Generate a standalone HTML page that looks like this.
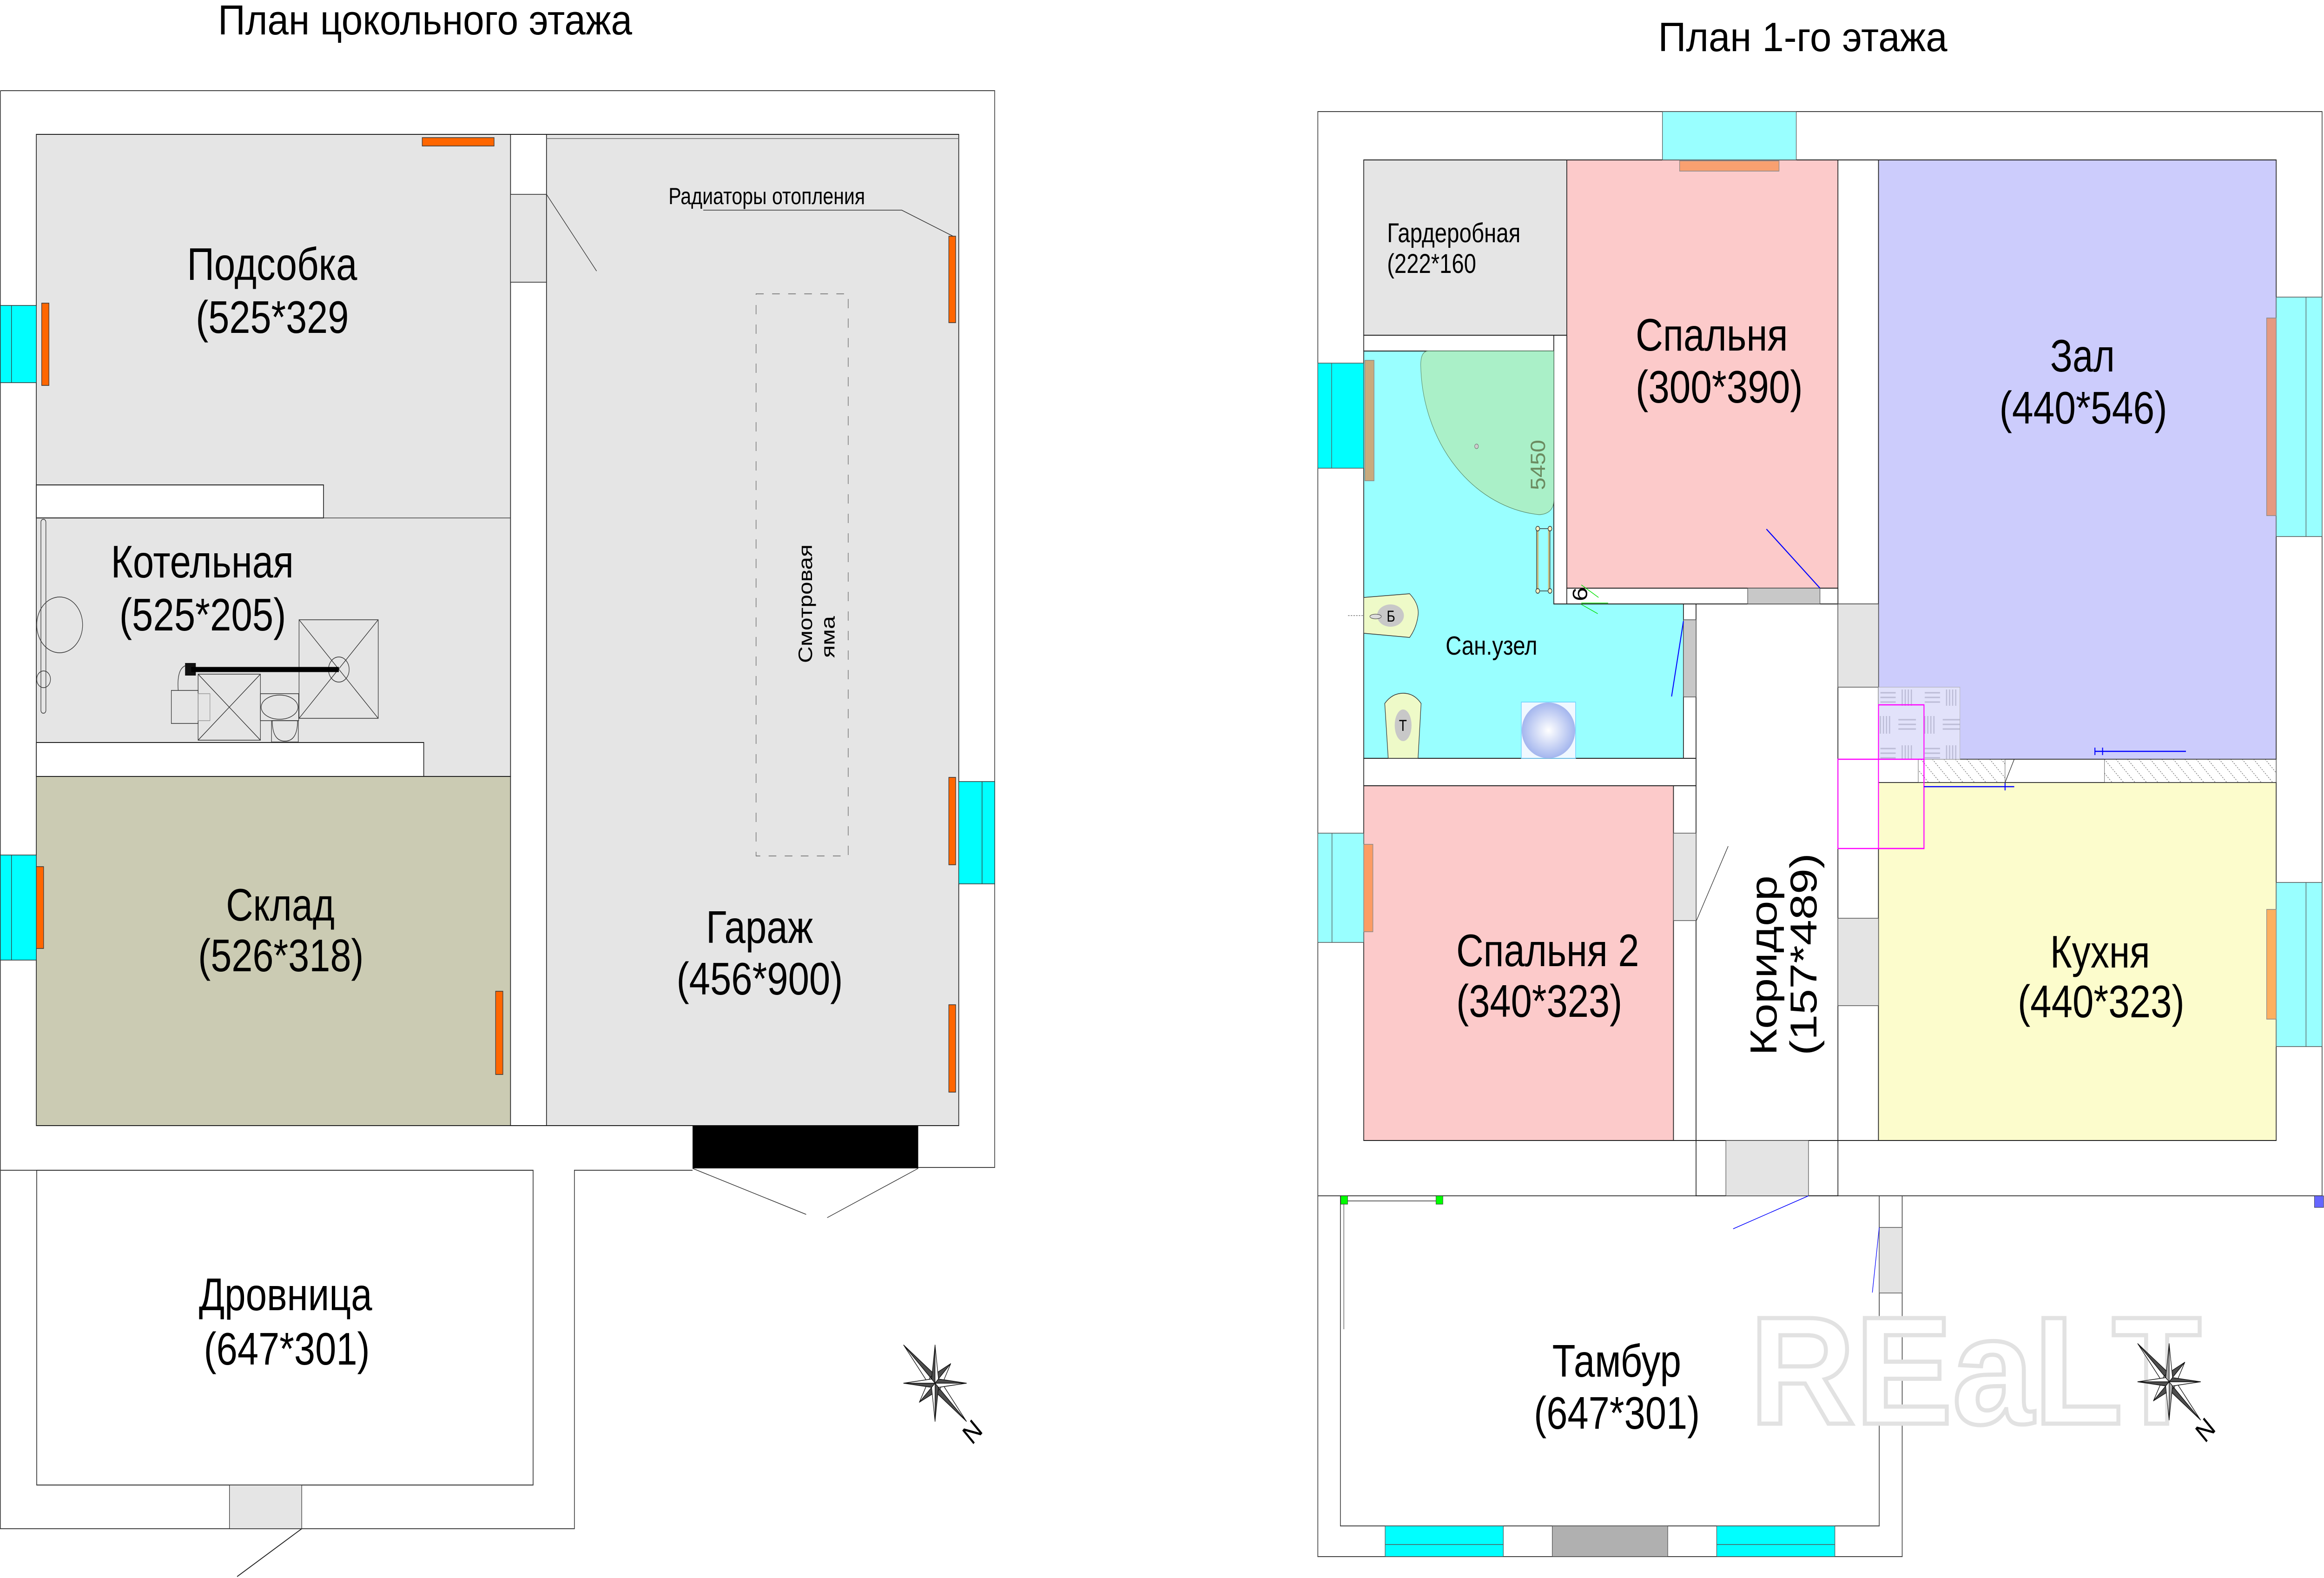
<!DOCTYPE html>
<html><head><meta charset="utf-8"><style>
html,body{margin:0;padding:0;background:#fff;width:100%;height:100%;overflow:hidden;}
svg{display:block;width:100vw;height:100vh;}
text{font-family:"Liberation Sans",Arial,sans-serif;fill:#000;}
</style></head><body>
<svg xmlns="http://www.w3.org/2000/svg" viewBox="0 0 6077 3394" preserveAspectRatio="none">
<defs>
<pattern id="hatch" patternUnits="userSpaceOnUse" width="30" height="30">
<path d="M0,0 L30,30 M-15,15 L15,45 M15,-15 L45,15" stroke="#777" stroke-width="1.5" stroke-dasharray="3,3" fill="none"/>
</pattern>
<pattern id="tile" patternUnits="userSpaceOnUse" x="4912" y="1478" width="116" height="120">
<rect width="116" height="120" fill="#e2e2fa"/>
<g stroke="#bcbcd6" stroke-width="3">
<path d="M5,12 H45 M5,22 H45 M5,32 H45"/>
<path d="M62,5 V40 M70,5 V40 M78,5 V40 M86,5 V40"/>
<path d="M5,62 V100 M13,62 V100 M21,62 V100 M29,62 V100"/>
<path d="M52,70 H98 M52,80 H98 M52,90 H98"/>
</g>
</pattern>
<radialGradient id="basin" cx="0.5" cy="0.5" r="0.5">
<stop offset="0" stop-color="#ffffff"/><stop offset="1" stop-color="#a4b6ee"/>
</radialGradient>
</defs>
<rect width="6077" height="3394" fill="#fff"/>

<!-- ================= LEFT PLAN ================= -->
<text x="570" y="74" font-size="90" textLength="1083" lengthAdjust="spacingAndGlyphs">План цокольного этажа</text>

<g fill="none" stroke="#444" stroke-width="2">
<path d="M1,195 H2601 V2511 H2401"/>
<path d="M1,195 V3288 H1502 V2517 H1811"/>
<path d="M1,2517 H96"/>
</g>
<rect x="96" y="2517" width="1298" height="677" fill="#fff" stroke="#333" stroke-width="2"/>

<rect x="95" y="289" width="1240" height="1381" fill="#e5e5e5" stroke="#222" stroke-width="2"/>
<rect x="95" y="1043" width="751" height="71" fill="#fff" stroke="#222" stroke-width="2"/>
<line x1="846" y1="1114" x2="1335" y2="1114" stroke="#444" stroke-width="1.5"/>
<rect x="95" y="1597" width="1013" height="73" fill="#fff" stroke="#222" stroke-width="2"/>
<rect x="95" y="1670" width="1240" height="751" fill="#cbcbb3" stroke="#222" stroke-width="2"/>
<line x1="1335" y1="289" x2="1429" y2="289" stroke="#222" stroke-width="2"/>
<line x1="1335" y1="2421" x2="1429" y2="2421" stroke="#222" stroke-width="2"/>
<rect x="1335" y="418" width="94" height="189" fill="#e5e5e5" stroke="#222" stroke-width="1.5"/>
<rect x="1429" y="289" width="1078" height="2132" fill="#e5e5e5" stroke="#222" stroke-width="2"/>
<line x1="1429" y1="298" x2="2507" y2="298" stroke="#666" stroke-width="1.5"/>
<line x1="1429" y1="418" x2="1560" y2="583" stroke="#333" stroke-width="1.5"/>
<rect x="1811" y="2421" width="590" height="92" fill="#000"/>
<line x1="1811" y1="2513" x2="2108" y2="2612" stroke="#333" stroke-width="1.5"/>
<line x1="2401" y1="2513" x2="2163" y2="2619" stroke="#333" stroke-width="1.5"/>
<rect x="600" y="3194" width="189" height="94" fill="#e5e5e5" stroke="#333" stroke-width="1.5"/>
<line x1="789" y1="3288" x2="620" y2="3391" stroke="#222" stroke-width="2"/>

<g fill="#00ffff" stroke="#333" stroke-width="1.5">
<rect x="1" y="657" width="94" height="166"/><line x1="30" y1="657" x2="30" y2="823"/>
<rect x="1" y="1839" width="94" height="226"/><line x1="30" y1="1839" x2="30" y2="2065"/>
<rect x="2507" y="1681" width="94" height="220"/><line x1="2568" y1="1681" x2="2568" y2="1901"/>
</g>
<g fill="#ff6600" stroke="#333" stroke-width="1.5">
<rect x="1104" y="296" width="188" height="18"/>
<rect x="109" y="652" width="19" height="177"/>
<rect x="95" y="1864" width="19" height="176"/>
<rect x="1296" y="2132" width="19" height="179"/>
<rect x="2481" y="508" width="18" height="186"/>
<rect x="2481" y="1672" width="18" height="188"/>
<rect x="2481" y="2161" width="18" height="188"/>
</g>

<text x="1748" y="439" font-size="50" textLength="514" lengthAdjust="spacingAndGlyphs">Радиаторы отопления</text>
<polyline points="1839,452 2358,452 2492,508" fill="none" stroke="#333" stroke-width="1.5"/>
<rect x="1977" y="632" width="241" height="1209" fill="none" stroke="#666" stroke-width="1.5" stroke-dasharray="20,22"/>
<text font-size="51" transform="translate(2123,1426) rotate(-90)" textLength="255" lengthAdjust="spacingAndGlyphs">Смотровая</text>
<text font-size="51" transform="translate(2182,1415) rotate(-90)" textLength="90" lengthAdjust="spacingAndGlyphs">яма</text>

<g fill="none" stroke="#333" stroke-width="1.5">
<rect x="107" y="1117" width="13" height="417" rx="6"/>
<circle cx="156" cy="1344" r="60"/>
<circle cx="114" cy="1461" r="18"/>
<rect x="782" y="1333" width="207" height="212"/>
<path d="M782,1333 L989,1545 M989,1333 L782,1545"/>
<circle cx="886" cy="1440" r="27"/>
<rect x="518" y="1450" width="163" height="142"/>
<path d="M518,1450 L681,1592 M681,1450 L518,1592"/>
<rect x="448" y="1485" width="70" height="71"/>
<rect x="518" y="1492" width="31" height="58" stroke="#999"/>
<rect x="681" y="1492" width="100" height="58"/>
<ellipse cx="731" cy="1521" rx="48" ry="26"/>
<rect x="710" y="1550" width="70" height="46"/>
<path d="M712,1550 Q712,1594 745,1594 Q778,1594 778,1550"/>
<path d="M484,1432 Q462,1440 466,1485"/>
</g>
<rect x="484" y="1426" width="28" height="27" fill="#111"/>
<line x1="500" y1="1440" x2="886" y2="1440" stroke="#000" stroke-width="11"/>

<g font-size="98">
<text x="489" y="602" textLength="445" lengthAdjust="spacingAndGlyphs">Подсобка</text>
<text x="512" y="716" textLength="400" lengthAdjust="spacingAndGlyphs">(525*329</text>
<text x="290" y="1242" textLength="478" lengthAdjust="spacingAndGlyphs">Котельная</text>
<text x="312" y="1356" textLength="436" lengthAdjust="spacingAndGlyphs">(525*205)</text>
<text x="591" y="1980" textLength="284" lengthAdjust="spacingAndGlyphs">Склад</text>
<text x="518" y="2089" textLength="433" lengthAdjust="spacingAndGlyphs">(526*318)</text>
<text x="520" y="2818" textLength="453" lengthAdjust="spacingAndGlyphs">Дровница</text>
<text x="533" y="2935" textLength="434" lengthAdjust="spacingAndGlyphs">(647*301)</text>
<text x="1846" y="2028" textLength="280" lengthAdjust="spacingAndGlyphs">Гараж</text>
<text x="1769" y="2139" textLength="435" lengthAdjust="spacingAndGlyphs">(456*900)</text>
</g>

<g transform="translate(2445,2975)" stroke="#111" stroke-width="1.5" stroke-linejoin="round">
<polygon points="0,0 -82,-82 10,-10" fill="#4d4d4d"/><polygon points="0,0 -82,-82 -10,10" fill="#fff"/>
<polygon points="0,0 82,82 -10,10" fill="#4d4d4d"/><polygon points="0,0 82,82 10,-10" fill="#fff"/>
<polygon points="0,0 41,-42 -13,-13" fill="#4d4d4d"/><polygon points="0,0 41,-42 13,13" fill="#fff"/>
<polygon points="0,0 -41,41 13,13" fill="#4d4d4d"/><polygon points="0,0 -41,41 -13,-13" fill="#fff"/>
<polygon points="0,0 0,-82 -9,-9" fill="#4d4d4d"/><polygon points="0,0 0,-82 9,-9" fill="#fff"/>
<polygon points="0,0 82,0 9,-9" fill="#4d4d4d"/><polygon points="0,0 82,0 9,9" fill="#fff"/>
<polygon points="0,0 0,82 9,9" fill="#4d4d4d"/><polygon points="0,0 0,82 -9,9" fill="#fff"/>
<polygon points="0,0 -82,0 -9,9" fill="#4d4d4d"/><polygon points="0,0 -82,0 -9,-9" fill="#fff"/>
</g>
<text font-family="Liberation Serif,serif" font-size="60" text-anchor="middle" transform="translate(2543,3080) rotate(-45)" y="20">N</text>

<!-- ================= RIGHT PLAN ================= -->
<text x="4336" y="110" font-size="88" textLength="756" lengthAdjust="spacingAndGlyphs">План 1-го этажа</text>

<g fill="none" stroke="#444" stroke-width="2">
<rect x="3446" y="240" width="2626" height="2332"/>
<path d="M3446,2572 V3348 H4974 V2572"/>
</g>
<rect x="3505" y="2572" width="1409" height="710" fill="#fff" stroke="#444" stroke-width="2"/>

<g stroke="#222" stroke-width="2">
<rect x="3566" y="344" width="531" height="377" fill="#e5e5e5"/>
<rect x="4097" y="344" width="709" height="921" fill="#fccaca"/>
<rect x="4912" y="344" width="1040" height="1289" fill="#ccccfc"/>
<rect x="4806" y="344" width="106" height="955" fill="#fff"/>
<rect x="3566" y="721" width="497" height="34" fill="#fff"/>
<rect x="4063" y="721" width="34" height="578" fill="#fff"/>
<rect x="4097" y="1265" width="709" height="34" fill="#fff"/>
<polygon points="3566,755 4063,755 4063,1299 4402,1299 4402,1631 3566,1631" fill="#99ffff"/>
<rect x="4402" y="1299" width="33" height="332" fill="#fff"/>
<rect x="3566" y="1631" width="869" height="59" fill="#fff"/>
<rect x="3566" y="1690" width="810" height="763" fill="#fccaca"/>
<rect x="4376" y="1690" width="59" height="763" fill="#fff"/>
<rect x="4435" y="1299" width="371" height="1154" fill="#fff"/>
<rect x="4435" y="2453" width="371" height="119" fill="#fff"/>
<rect x="4806" y="1299" width="106" height="1154" fill="#fff"/>
<rect x="4912" y="1683" width="1040" height="770" fill="#fcfccc"/>
</g>
<g stroke="#555" stroke-width="1.5">
<rect x="4570" y="1265" width="189" height="34" fill="#c8c8c8"/>
<rect x="4402" y="1333" width="33" height="166" fill="#c8c8c8"/>
<rect x="4806" y="1299" width="106" height="179" fill="#e4e4e4"/>
<rect x="4806" y="1975" width="106" height="188" fill="#e4e4e4"/>
<rect x="4376" y="1792" width="59" height="188" fill="#e4e4e4"/>
<rect x="4513" y="2453" width="216" height="119" fill="#e4e4e4"/>
<rect x="4914" y="2640" width="60" height="141" fill="#e4e4e4"/>
<rect x="4059" y="3282" width="302" height="66" fill="#b0b0b0"/>
</g>

<rect x="4912" y="1633" width="1040" height="50" fill="#fff" stroke="#222" stroke-width="1.5"/>
<rect x="5016" y="1633" width="227" height="50" fill="url(#hatch)" stroke="#444" stroke-width="1"/>
<rect x="5503" y="1633" width="449" height="50" fill="url(#hatch)" stroke="#444" stroke-width="1"/>
<line x1="5243" y1="1683" x2="5267" y2="1633" stroke="#333" stroke-width="1.5"/>
<rect x="4912" y="1478" width="213" height="155" fill="url(#tile)" stroke="#aaa" stroke-width="1"/>
<g fill="none" stroke="#ff00ff" stroke-width="2.5">
<rect x="4912" y="1516" width="119" height="309"/>
<rect x="4806" y="1633" width="225" height="192"/>
</g>
<g stroke="#0000ff" stroke-width="2.5" fill="none">
<path d="M5478,1616 H5716 M5478,1608 V1624 M5498,1608 V1624"/>
<path d="M5031,1692 H5267 M5243,1684 V1700"/>
<line x1="4619" y1="1138" x2="4759" y2="1265"/>
<line x1="4402" y1="1336" x2="4371" y2="1498"/>
<line x1="4729" y1="2572" x2="4532" y2="2643" stroke-width="1.5"/>
<line x1="4914" y1="2640" x2="4896" y2="2780" stroke-width="1.5"/>
</g>
<line x1="4436" y1="1980" x2="4519" y2="1820" stroke="#333" stroke-width="1.5"/>

<g stroke="#555" stroke-width="1.5">
<rect x="4347" y="240" width="350" height="104" fill="#99ffff"/>
<rect x="3446" y="781" width="120" height="226" fill="#00ffff"/><line x1="3482" y1="781" x2="3482" y2="1007"/>
<rect x="3446" y="1792" width="120" height="235" fill="#99ffff"/><line x1="3483" y1="1792" x2="3483" y2="2027"/>
<rect x="5952" y="639" width="120" height="515" fill="#99ffff"/><line x1="6030" y1="639" x2="6030" y2="1154"/>
<rect x="5952" y="1898" width="120" height="353" fill="#99ffff"/><line x1="6030" y1="1898" x2="6030" y2="2251"/>
<rect x="3622" y="3282" width="309" height="66" fill="#00ffff"/><line x1="3622" y1="3322" x2="3931" y2="3322"/>
<rect x="4489" y="3282" width="309" height="66" fill="#00ffff"/><line x1="4489" y1="3322" x2="4798" y2="3322"/>
</g>
<g stroke="#888" stroke-width="1.5">
<rect x="4392" y="346" width="260" height="22" fill="#f9a070"/>
<rect x="3569" y="775" width="24" height="259" fill="#c8aa7d"/>
<rect x="3566" y="1816" width="24" height="188" fill="#fc9c64"/>
<rect x="5927" y="684" width="25" height="425" fill="#e59a80"/>
<rect x="5927" y="1956" width="25" height="236" fill="#fcb060"/>
</g>

<path d="M4063,755 L3735,755 Q3715,755 3715,785 A 340 330 0 0 0 4025,1107 Q4063,1105 4063,1075 Z" fill="#aaf0c8" stroke="#5a8a6a" stroke-width="1.2"/>
<circle cx="3861" cy="960" r="5" fill="#ccc" stroke="#666"/>
<text font-size="54" style="fill:#6b8a60" transform="translate(4040,1054) rotate(-90)" textLength="108" lengthAdjust="spacingAndGlyphs">5450</text>
<g stroke="#333" stroke-width="1.5">
<rect x="4018" y="1137" width="35" height="134" fill="none"/>
<line x1="4021" y1="1137" x2="4021" y2="1271" stroke="#c8b878" stroke-width="4"/>
<line x1="4050" y1="1137" x2="4050" y2="1271" stroke="#c8b878" stroke-width="4"/>
<circle cx="4021" cy="1137" r="5" fill="#f4f0c0"/><circle cx="4053" cy="1137" r="5" fill="#f4f0c0"/>
<circle cx="4021" cy="1271" r="5" fill="#f4f0c0"/><circle cx="4053" cy="1271" r="5" fill="#f4f0c0"/>
</g>
<text font-size="54" transform="translate(4150,1293) rotate(-90)">6</text>
<g stroke="#00e000" stroke-width="1.5">
<line x1="4135" y1="1258" x2="4180" y2="1285"/>
<line x1="4135" y1="1297" x2="4205" y2="1297"/>
<line x1="4135" y1="1300" x2="4178" y2="1320"/>
</g>
<path d="M3566,1285 L3686,1277 Q3712,1300 3708,1324 Q3704,1350 3686,1371 L3566,1362 Z" fill="#eefac8" stroke="#333" stroke-width="1.5"/>
<ellipse cx="3636" cy="1324" rx="35" ry="24" fill="#c8c8c8"/>
<ellipse cx="3597" cy="1326" rx="15" ry="5" fill="#ddd" stroke="#333" stroke-width="1"/>
<line x1="3525" y1="1324" x2="3566" y2="1324" stroke="#333" stroke-width="1" stroke-dasharray="4,3"/>
<text x="3626" y="1337" font-size="34">Б</text>
<path d="M3621,1513 Q3640,1491 3669,1491 Q3698,1491 3716,1513 L3708,1631 L3630,1631 Z" fill="#eefac8" stroke="#333" stroke-width="1.5"/>
<ellipse cx="3669" cy="1560" rx="22" ry="34" fill="#c8c8c8"/>
<text x="3658" y="1572" font-size="34">Т</text>
<rect x="3978" y="1510" width="142" height="121" fill="#f0f8ff" stroke="#66ccff" stroke-width="1.5"/>
<ellipse cx="4049" cy="1571" rx="70" ry="60" fill="url(#basin)"/>

<rect x="3506" y="2572" width="18" height="18" fill="#00ff00" stroke="#333" stroke-width="1"/>
<rect x="3755" y="2572" width="18" height="18" fill="#00ff00" stroke="#333" stroke-width="1"/>
<line x1="3524" y1="2583" x2="3755" y2="2583" stroke="#333" stroke-width="1.5"/>
<line x1="3514" y1="2590" x2="3514" y2="2859" stroke="#555" stroke-width="1.5"/>
<rect x="6052" y="2572" width="24" height="25" fill="#6666ff" stroke="#333" stroke-width="1"/>

<text x="4575" y="3062" font-size="330" font-weight="bold" textLength="1181" lengthAdjust="spacingAndGlyphs" style="fill:#ffffff;stroke:#e2e2e2;stroke-width:9">REaLT</text>

<text x="3627" y="521" font-size="58" textLength="349" lengthAdjust="spacingAndGlyphs">Гардеробная</text>
<text x="3627" y="587" font-size="58" textLength="233" lengthAdjust="spacingAndGlyphs">(222*160</text>
<text x="3780" y="1408" font-size="57" textLength="240" lengthAdjust="spacingAndGlyphs">Сан.узел</text>
<g font-size="98">
<text x="4277" y="754" textLength="398" lengthAdjust="spacingAndGlyphs">Спальня</text>
<text x="4277" y="866" textLength="437" lengthAdjust="spacingAndGlyphs">(300*390)</text>
<text x="5361" y="799" textLength="169" lengthAdjust="spacingAndGlyphs">Зал</text>
<text x="5228" y="911" textLength="439" lengthAdjust="spacingAndGlyphs">(440*546)</text>
<text x="3808" y="2078" textLength="478" lengthAdjust="spacingAndGlyphs">Спальня 2</text>
<text x="3808" y="2187" textLength="434" lengthAdjust="spacingAndGlyphs">(340*323)</text>
<text x="5361" y="2081" textLength="261" lengthAdjust="spacingAndGlyphs">Кухня</text>
<text x="5276" y="2188" textLength="436" lengthAdjust="spacingAndGlyphs">(440*323)</text>
<text x="4059" y="2961" textLength="337" lengthAdjust="spacingAndGlyphs">Тамбур</text>
<text x="4011" y="3073" textLength="434" lengthAdjust="spacingAndGlyphs">(647*301)</text>
<text transform="translate(4645,2270) rotate(-90)" textLength="387" lengthAdjust="spacingAndGlyphs">Коридор</text>
<text transform="translate(4750,2270) rotate(-90)" textLength="435" lengthAdjust="spacingAndGlyphs">(157*489)</text>
</g>

<g transform="translate(5672,2972)" stroke="#111" stroke-width="1.5" stroke-linejoin="round">
<polygon points="0,0 -82,-82 10,-10" fill="#4d4d4d"/><polygon points="0,0 -82,-82 -10,10" fill="#fff"/>
<polygon points="0,0 82,82 -10,10" fill="#4d4d4d"/><polygon points="0,0 82,82 10,-10" fill="#fff"/>
<polygon points="0,0 41,-42 -13,-13" fill="#4d4d4d"/><polygon points="0,0 41,-42 13,13" fill="#fff"/>
<polygon points="0,0 -41,41 13,13" fill="#4d4d4d"/><polygon points="0,0 -41,41 -13,-13" fill="#fff"/>
<polygon points="0,0 0,-82 -9,-9" fill="#aaa"/><polygon points="0,0 0,-82 9,-9" fill="#fff"/>
<polygon points="0,0 82,0 9,-9" fill="#4d4d4d"/><polygon points="0,0 82,0 9,9" fill="#fff"/>
<polygon points="0,0 0,82 9,9" fill="#aaa"/><polygon points="0,0 0,82 -9,9" fill="#fff"/>
<polygon points="0,0 -82,0 -9,9" fill="#4d4d4d"/><polygon points="0,0 -82,0 -9,-9" fill="#fff"/>
</g>
<text font-family="Liberation Serif,serif" font-size="60" text-anchor="middle" transform="translate(5767,3076) rotate(-45)" y="20">N</text>
</svg>
</body></html>
